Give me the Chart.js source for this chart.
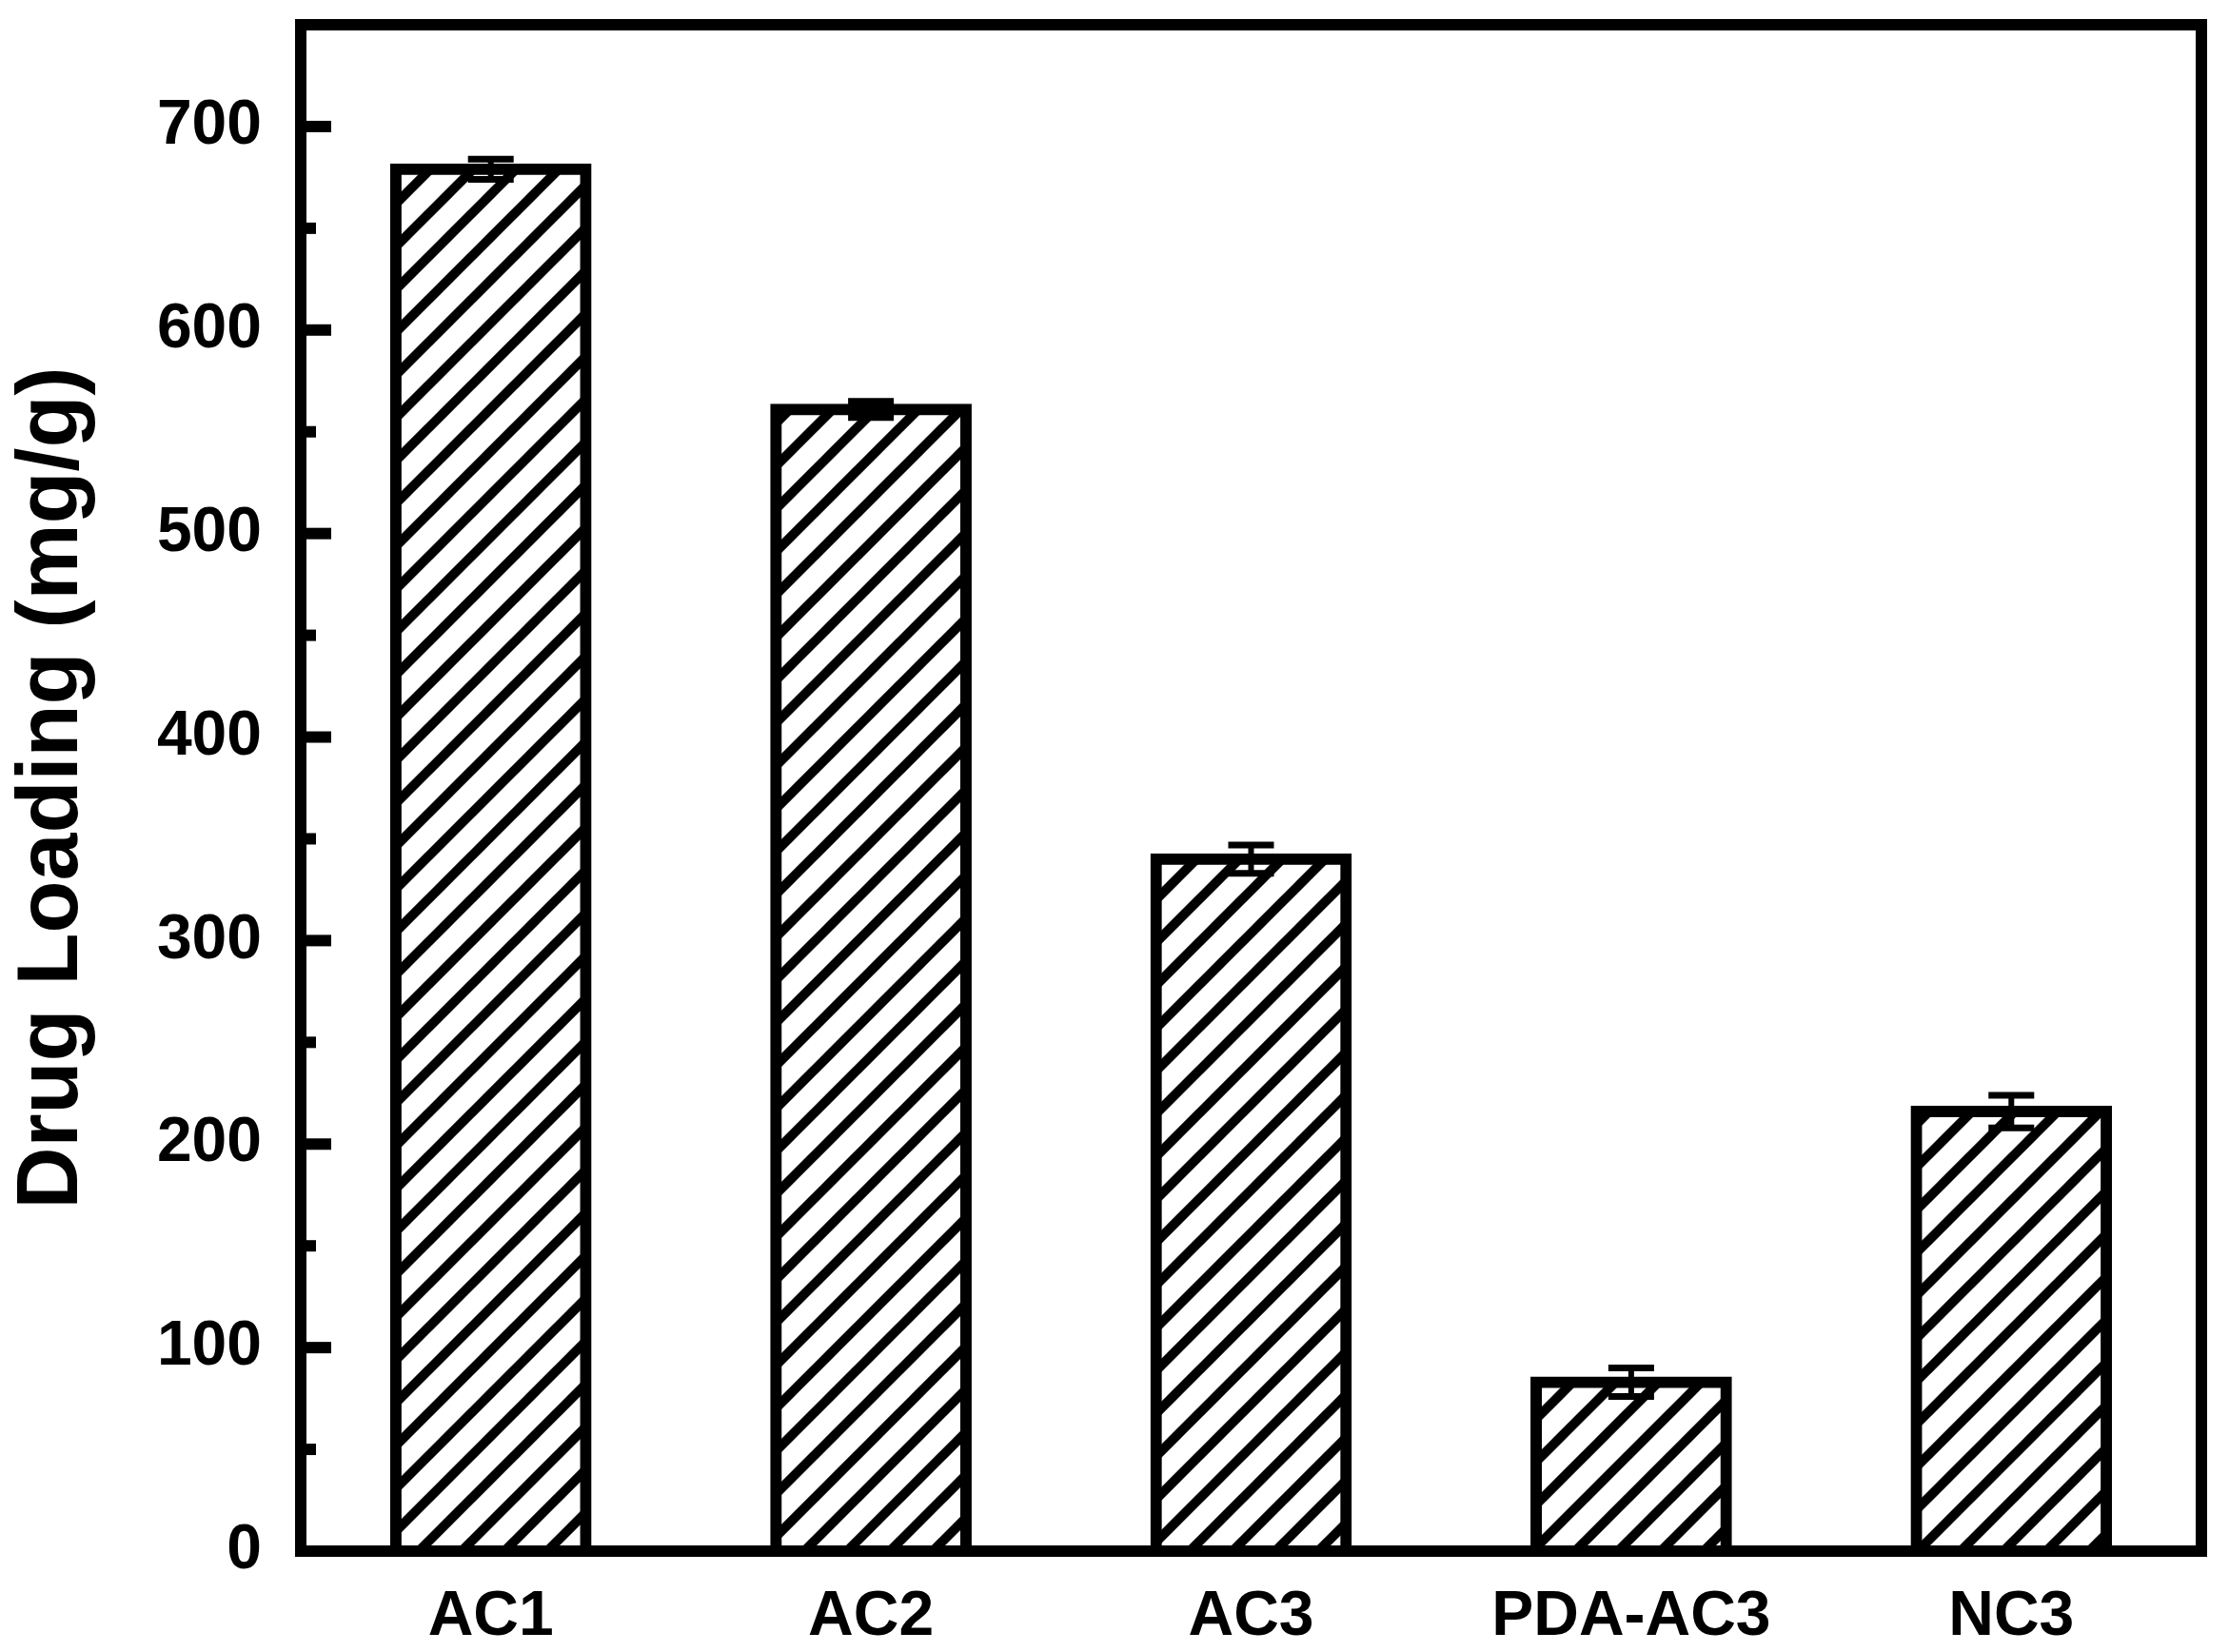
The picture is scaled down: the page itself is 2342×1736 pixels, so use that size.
<!DOCTYPE html>
<html>
<head>
<meta charset="utf-8">
<script src="https://cdn.jsdelivr.net/npm/chart.js@4.4.1/dist/chart.umd.min.js"></script>
<style>
  html, body { margin: 0; padding: 0; background: #fff; }
  #wrap { width: 2342px; height: 1736px; }
</style>
</head>
<body>
<div id="wrap"><canvas id="myChart" width="2342" height="1736"></canvas></div>
<script>
// data
const categories = ['AC1', 'AC2', 'AC3', 'PDA-AC3', 'NC3'];
const loading = [679, 561, 340, 83, 216];
const loadingErr = [5, 4, 7, 7, 8];
const yMin = 0;
const yMax = 750;
const majorStep = 100;
const minorStep = 50;

// diagonal hatch fill
function hatch() {
    const size = 45;
    const c = document.createElement('canvas');
    c.width = size;
    c.height = size;
    const g = c.getContext('2d');
    g.fillStyle = '#fff';
    g.fillRect(0, 0, size, size);
    g.strokeStyle = '#000';
    g.lineWidth = 10;
    for (let k = -2; k <= 2; k++) {
        g.beginPath();
        g.moveTo(k * size - size, 2 * size);
        g.lineTo(k * size + 2 * size, -size);
        g.stroke();
    }
    return g.createPattern(c, 'repeat');
}

// box frame + inward ticks on the left axis
const framePlugin = {
    id: 'frame',
    afterDatasetsDraw(chart) {
        const ctx = chart.ctx;
        const a = chart.chartArea;
        const y = chart.scales.y;
        ctx.save();
        ctx.strokeStyle = '#000';
        ctx.lineWidth = 12;
        ctx.lineCap = 'butt';
        y.ticks.forEach(t => {
            if (t.value <= yMin || t.value >= yMax) return;
            const py = y.getPixelForValue(t.value);
            const len = t.value % majorStep === 0 ? 32 : 16;
            ctx.beginPath();
            ctx.moveTo(a.left, py);
            ctx.lineTo(a.left + len, py);
            ctx.stroke();
        });
        ctx.lineJoin = 'miter';
        ctx.strokeRect(a.left, a.top, a.right - a.left, a.bottom - a.top);
        ctx.restore();
    }
};

// error bars
const errorBarPlugin = {
    id: 'errorBars',
    afterDatasetsDraw(chart) {
        const ctx = chart.ctx;
        const y = chart.scales.y;
        const meta = chart.getDatasetMeta(0);
        ctx.save();
        ctx.strokeStyle = '#000';
        meta.data.forEach((bar, i) => {
            const top = y.getPixelForValue(loading[i] + loadingErr[i]);
            const bot = y.getPixelForValue(loading[i] - loadingErr[i]);
            ctx.lineWidth = 6;
            ctx.beginPath();
            ctx.moveTo(bar.x, top);
            ctx.lineTo(bar.x, bot);
            ctx.stroke();
            ctx.lineWidth = 7;
            ctx.beginPath();
            ctx.moveTo(bar.x - 24, top);
            ctx.lineTo(bar.x + 24, top);
            ctx.moveTo(bar.x - 24, bot);
            ctx.lineTo(bar.x + 24, bot);
            ctx.stroke();
        });
        ctx.restore();
    }
};

Chart.defaults.font.family = "'Liberation Sans', Arial, sans-serif";
Chart.defaults.font.weight = 'bold';
Chart.defaults.color = '#000';

let myChart = document.getElementById('myChart').getContext('2d');
let barChart = new Chart(myChart, {
    type: 'bar',
    data: {
        labels: categories,
        datasets: [{
            label: 'Drug Loading',
            data: loading,
            backgroundColor: hatch(),
            borderColor: '#000',
            borderWidth: 12,
            borderSkipped: 'start',
            inflateAmount: 6,
            barPercentage: 0.5,
            categoryPercentage: 1
        }]
    },
    options: {
        responsive: false,
        animation: false,
        layout: {
            padding: { top: 26, right: 29, left: 0, bottom: 0 }
        },
        plugins: {
            legend: { display: false },
            tooltip: { enabled: false }
        },
        scales: {
            x: {
                grid: { display: false },
                border: { display: false },
                ticks: {
                    padding: 22,
                    font: { size: 66, weight: 'bold' }
                },
                afterFit: (s) => {
                    s.height = 106;
                    s.paddingLeft = 0;
                    s.paddingRight = 0;
                }
            },
            y: {
                min: yMin,
                max: yMax,
                grid: { display: false, drawTicks: false },
                border: { display: false },
                ticks: {
                    stepSize: minorStep,
                    padding: 41,
                    font: { size: 66, weight: 'bold' },
                    callback: (v) => (v % majorStep === 0 ? v : '')
                },
                title: {
                    display: true,
                    text: 'Drug Loading (mg/g)',
                    font: { size: 90, weight: 'bold' },
                    padding: { top: 2, bottom: 0 }
                },
                afterFit: (s) => {
                    s.width = 316;
                    s.paddingTop = 0;
                    s.paddingBottom = 0;
                }
            }
        }
    },
    plugins: [errorBarPlugin, framePlugin]
});
</script>
</body>
</html>
